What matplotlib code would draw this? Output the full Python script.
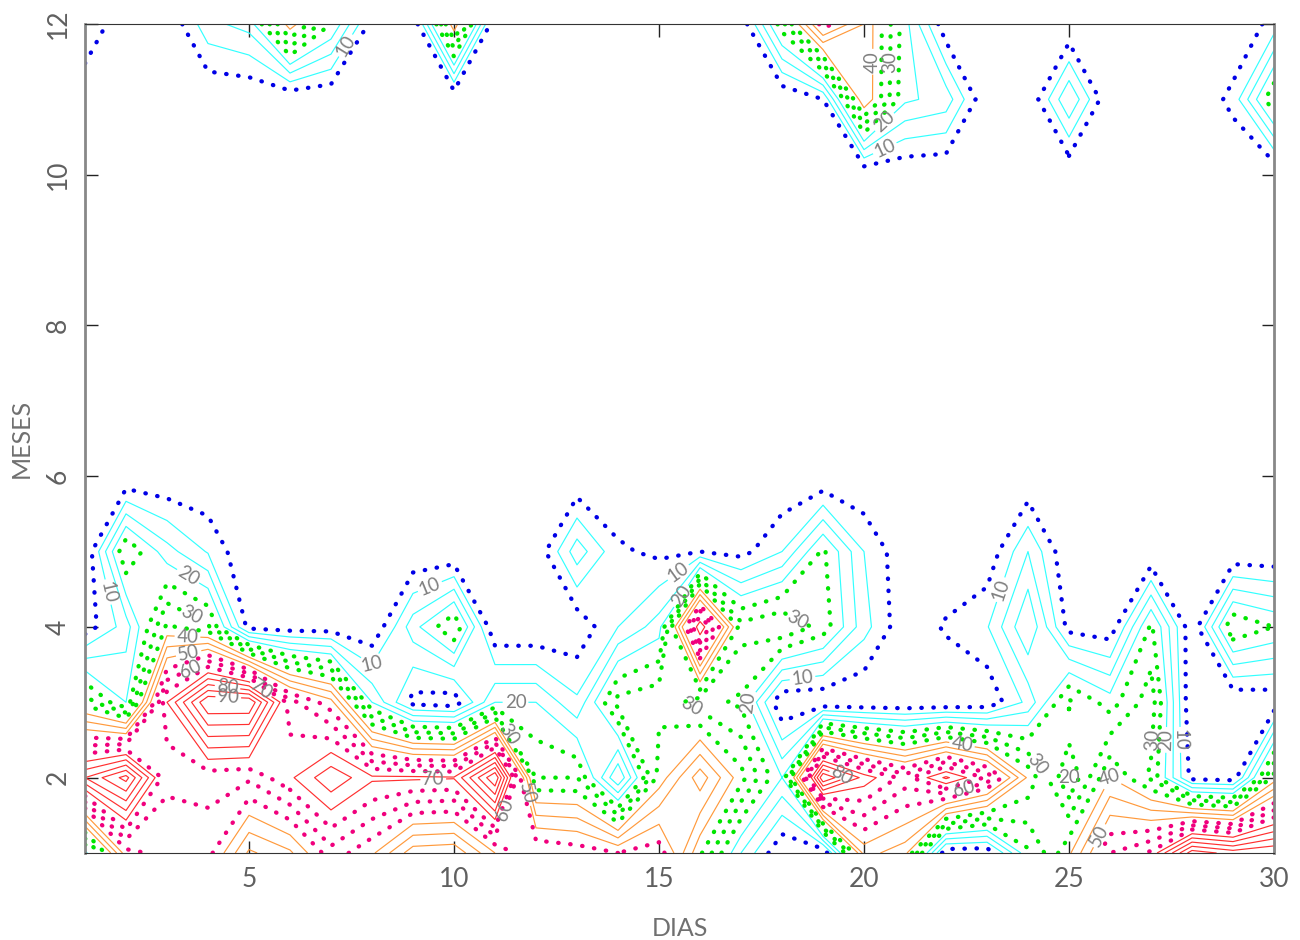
import matplotlib
matplotlib.use('Agg')
import matplotlib.pyplot as plt
import numpy as np

plt.rcParams['font.family'] = ['Lato', 'DejaVu Sans']

dias = list(range(1, 31))
meses = list(range(1, 13))

# values, one row per month, days 1 to 30
mes01 = [18, 53, 57, 57, 39, 44, 58, 51, 37, 36, 50, 60, 58, 55, 58, 36, 15, 0, 0, 47, 42, 1, 1, 24, 39, 60, 66, 93, 88, 90]
mes02 = [80, 92, 61, 62, 61, 69, 79, 71, 71, 70.5, 95, 30, 30, 5, 37, 53, 37, 20, 90, 73, 63, 76, 64, 39, 20, 40, 29, 3, 2, 37]
mes03 = [33, 20, 70, 95, 95, 62, 52, 20, 3, 1.5, 20, 20, 11, 32, 34, 27, 24, 0, 0, 0, 0, 0, 1, 11.5, 31, 22.5, 33, 0, 0, 1]
mes04 = [2, 12.5, 36, 31, 3, 2, 2, 0, 18, 30, 0, 0, 1, 10, 17.5, 75, 32, 35, 28, 12, 1, 5.7, 9.5, 25, 3, 1.5, 26, 1, 30, 25]
mes05 = [0, 30, 17, 9.5, 0, 0, 0, 0, 0, 0, 0, 1, 18, 6, 3.6, 5, 3, 10, 26, 10, 1, 0, 1, 15, 0, 0, 0, 0, 0, 0]
mes06 = [0] * 30
mes07 = [0] * 30
mes08 = [0] * 30
mes09 = [0] * 30
mes10 = [0] * 30
mes11 = [0, 0, 0, 0, 0, 0, 0, 0, 0, 0, 0, 0, 0, 0, 0, 0, 0, 0, 5, 45, 21, 18, 0, 0, 20, 0, 0, 0, 6.6, 30]
mes12 = [10.5, 0, 0, 13.5, 17, 43, 25, 3, 0, 44, 0, 0, 0, 0, 0, 0, 1, 28, 58, 45, 22, 1, 0, 0, 0, 0, 0, 0, 0, 7]

# contour levels and how each one is drawn
niveles = [5, 10, 15, 20, 25, 30, 35, 40, 45, 50, 55, 60, 65, 70, 75, 80, 85, 90]
colores = ['#0000e6', '#33ffff', '#33ffff', '#33ffff', '#00e600', '#00e600', '#00e600',
           '#ff9a3c', '#ff9a3c', '#ff9a3c', '#f0007d', '#f0007d', '#f0007d',
           '#ff3030', '#ff3030', '#ff3030', '#ff3030', '#ff3030']
punteado = [True, False, False, False, True, True, True, False, False, False, True, True, True,
            False, False, False, False, False]

# where the contour labels sit (day, month)
etiquetas = {
    10: [(1.54, 4.46), (8.2, 3.25), (9.4, 4.55), (7.34, 11.72), (15.46, 4.73), (18.5, 3.32),
         (23.3, 4.5), (27.6, 2.5), (20.5, 10.36)],
    20: [(3.5, 4.66), (11.5, 2.96), (15.5, 4.42), (16.9, 3.06), (20.5, 10.7), (24.9, 2.0), (27.4, 2.5)],
    30: [(3.56, 4.13), (11.5, 2.63), (15.8, 2.96), (18.4, 4.13), (24.2, 2.17), (20.75, 11.5), (27.1, 2.5)],
    40: [(3.5, 3.88), (20.05, 11.5), (22.4, 2.47), (26.0, 2.02)],
    50: [(3.5, 3.72), (11.85, 1.8), (25.7, 1.24)],
    60: [(3.5, 3.53), (11.25, 1.57), (22.5, 1.74)],
    70: [(5.3, 3.18), (9.5, 1.84)],
    80: [(4.5, 3.3), (19.5, 2.1)],
    90: [(4.5, 3.14)],
}

z = np.array([mes01, mes02, mes03, mes04, mes05, mes06, mes07, mes08, mes09, mes10, mes11, mes12])

fig = plt.figure(figsize=(13, 9.4), dpi=100)
ax = fig.add_axes([85 / 1300, 1 - 853 / 940, (1274 - 85) / 1300, (853 - 24) / 940])

# one contour call per level, clabel with manual places only works cleanly that way
for nivel, color, punto in zip(niveles, colores, punteado):
    if punto:
        cs = ax.contour(dias, meses, z, levels=[nivel], colors=[color], linewidths=3.1,
                        linestyles=[(0, (0.1, 2.7))])
        cs.set_capstyle('round')
    else:
        cs = ax.contour(dias, meses, z, levels=[nivel], colors=[color], linewidths=0.85,
                        linestyles='solid')
    if nivel in etiquetas:
        ax.clabel(cs, manual=etiquetas[nivel], fmt='%d', fontsize=13.5, colors='#808080',
                  inline=True, inline_spacing=2)

ax.set_xlim(1, 30)
ax.set_ylim(1, 12)
ax.set_xticks([5, 10, 15, 20, 25, 30])
ax.set_yticks([2, 4, 6, 8, 10, 12])
ax.tick_params(direction='in', length=9, width=1, top=True, right=True, color='#222222',
               labelsize=19, labelcolor='#606060', pad=10)
for lab in ax.get_yticklabels():
    lab.set_rotation(90)
    lab.set_va('center')

ax.set_xlabel('DIAS', fontsize=18, color='#707070')
ax.xaxis.set_label_coords((680 - 85) / (1274 - 85), -(928 - 853) / (853 - 24), )
ax.xaxis.label.set_va('center')
ax.set_ylabel('MESES', fontsize=18, color='#707070')
ax.yaxis.set_label_coords(-(85 - 21) / (1274 - 85), (853 - 438) / (853 - 24))
ax.yaxis.label.set_va('center')

ax.spines['left'].set_color('#888888')
ax.spines['left'].set_linewidth(2)
ax.spines['right'].set_color('#888888')
ax.spines['right'].set_linewidth(2)
ax.spines['top'].set_color('#333333')
ax.spines['bottom'].set_color('#333333')

fig.savefig('out.png', dpi=100)
